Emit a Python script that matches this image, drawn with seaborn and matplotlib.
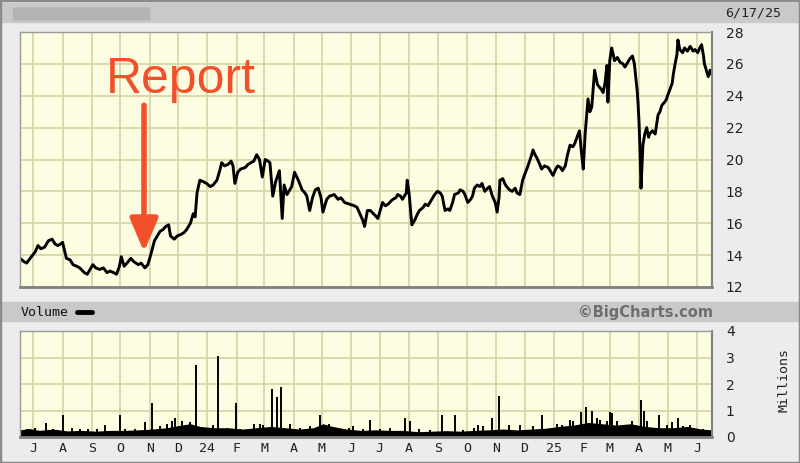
import matplotlib
matplotlib.use('Agg')
import matplotlib.pyplot as plt
from matplotlib.patches import Rectangle, FancyBboxPatch
import seaborn as sns
import pandas as pd
import numpy as np

# price: day offset from 2023-06-17 and closing price
price_days = [0, 4, 7, 12, 16, 19, 22, 26, 30, 34, 37, 40, 43, 45, 49, 53, 56, 60, 63, 68,
              71, 74, 77, 80, 84, 88, 92, 95, 99, 102, 105, 107, 110, 113, 117, 120, 125, 128, 132, 135,
              138, 142, 145, 148, 151, 154, 157, 159, 163, 166, 170, 173, 176, 180, 183, 185, 187, 190, 194, 197,
              201, 204, 208, 211, 213, 216, 220, 223, 225, 227, 230, 233, 238, 241, 244, 247, 250, 253, 256, 259,
              262, 264, 267, 270, 274, 277, 279, 282, 285, 287, 290, 294, 298, 301, 303, 306, 309, 312, 315, 318,
              320, 324, 327, 332, 336, 339, 343, 348, 353, 356, 359, 362, 364, 367, 370, 375, 378, 381, 383, 386,
              389, 392, 394, 397, 399, 402, 404, 408, 409, 411, 413, 414, 417, 420, 422, 426, 428, 431, 433, 436,
              438, 441, 444, 446, 449, 452, 454, 457, 459, 463, 465, 468, 470, 473, 476, 478, 480, 483, 486, 488,
              491, 494, 496, 499, 502, 504, 506, 507, 510, 512, 514, 517, 520, 523, 525, 528, 531, 534, 536, 540,
              542, 544, 546, 549, 551, 554, 558, 561, 563, 566, 568, 571, 573, 576, 578, 581, 584, 586, 589, 591,
              593, 595, 597, 600, 602, 604, 606, 607, 609, 610, 614, 616, 618, 620, 621, 623, 625, 627, 628, 631,
              634, 637, 639, 642, 644, 647, 649, 652, 653, 654, 655, 656, 658, 660, 662, 664, 665, 668, 671, 674,
              676, 678, 681, 683, 684, 686, 689, 690, 692, 694, 695, 697, 700, 702, 705, 708, 711, 713, 716, 718,
              720, 722, 723, 726, 727, 729, 731]
price = [13.8, 13.6, 13.5, 13.9, 14.2, 14.6, 14.4, 14.5, 14.9, 15.0, 14.7, 14.6, 14.7, 14.8, 13.8, 13.7, 13.4, 13.3, 13.2, 12.9,
         12.8, 13.1, 13.4, 13.2, 13.1, 13.2, 12.9, 13.0, 12.9, 12.8, 13.3, 13.9, 13.3, 13.5, 13.8, 13.6, 13.4, 13.5, 13.2, 13.4,
         14.0, 14.9, 15.2, 15.5, 15.6, 15.8, 15.9, 15.2, 15.0, 15.2, 15.3, 15.4, 15.6, 16.0, 16.6, 16.4, 17.9, 18.7, 18.6, 18.5,
         18.3, 18.4, 18.7, 19.3, 19.8, 19.6, 19.7, 19.9, 19.6, 18.5, 19.2, 19.4, 19.5, 19.7, 19.8, 19.9, 20.3, 20.0, 18.9, 20.0,
         19.9, 19.8, 17.7, 18.6, 19.3, 16.3, 18.4, 17.8, 18.1, 18.3, 19.2, 18.7, 18.1, 17.9, 17.7, 16.8, 17.6, 18.1, 18.2, 17.6,
         16.7, 17.5, 17.7, 17.8, 17.5, 17.6, 17.3, 17.2, 17.1, 17.0, 16.6, 16.2, 15.8, 16.8, 16.8, 16.5, 16.3, 16.9, 17.3, 17.1,
         17.2, 17.4, 17.5, 17.6, 17.8, 17.7, 17.5, 17.9, 18.7, 17.9, 16.5, 15.9, 16.2, 16.6, 16.8, 17.0, 17.2, 17.1, 17.3, 17.6,
         17.8, 18.0, 17.9, 17.7, 16.8, 16.9, 16.8, 17.3, 17.8, 17.9, 18.1, 18.0, 17.8, 17.3, 17.5, 17.7, 18.2, 18.4, 18.3, 18.5,
         18.0, 18.2, 18.3, 17.7, 17.3, 16.7, 17.6, 18.7, 18.8, 18.5, 18.3, 18.1, 18.0, 18.2, 17.9, 17.8, 18.7, 19.2, 19.5, 20.2,
         20.6, 20.3, 20.1, 19.7, 19.4, 19.6, 19.5, 19.2, 19.0, 19.4, 19.6, 19.5, 19.3, 19.6, 20.2, 20.9, 20.8, 21.0, 21.5, 21.8,
         20.5, 19.4, 21.6, 23.8, 23.0, 23.3, 24.8, 25.6, 25.0, 24.7, 24.4, 24.2, 24.8, 25.9, 23.6, 26.2, 27.0, 26.5, 26.2, 26.4,
         26.1, 26.0, 25.8, 26.1, 26.3, 26.5, 26.0, 24.3, 23.4, 22.2, 20.5, 18.2, 20.9, 21.6, 22.0, 21.4, 21.6, 21.8, 21.6, 22.8,
         23.0, 23.4, 23.6, 23.8, 24.0, 24.3, 24.8, 25.3, 26.0, 26.6, 27.5, 26.9, 26.7, 27.0, 26.8, 27.1, 26.8, 26.9, 26.7, 27.0,
         27.2, 26.5, 26.0, 25.4, 25.2, 25.6, 25.3]

# volume (millions): typical daily level and the single-day spikes
vol_base_days = [0, 10, 20, 35, 50, 65, 80, 95, 110, 125, 140, 155, 170, 180, 190, 205, 220, 235, 250, 265,
                 280, 295, 310, 320, 330, 345, 360, 375, 390, 405, 420, 435, 450, 465, 480, 495, 510, 525, 540, 555,
                 570, 585, 600, 615, 630, 645, 660, 675, 690, 705, 720, 731]
vol_base = [0.27, 0.32, 0.25, 0.3, 0.23, 0.25, 0.22, 0.25, 0.25, 0.27, 0.3, 0.35, 0.45, 0.5, 0.4, 0.35, 0.35, 0.3, 0.35, 0.4,
            0.35, 0.3, 0.35, 0.5, 0.4, 0.3, 0.25, 0.27, 0.25, 0.25, 0.2, 0.22, 0.24, 0.22, 0.25, 0.27, 0.3, 0.27, 0.3, 0.33,
            0.4, 0.45, 0.55, 0.5, 0.45, 0.5, 0.4, 0.35, 0.35, 0.4, 0.3, 0.27]
spike_days = [7, 16, 27, 35, 45, 55, 63, 72, 81, 90,
              106, 111, 121, 132, 139, 148, 155, 161, 164, 171,
              176, 180, 186, 193, 204, 209, 219, 228, 232, 247,
              253, 257, 266, 271, 276, 285, 296, 306, 317, 326,
              348, 352, 362, 370, 380, 391, 407, 412, 422, 433,
              446, 459, 468, 480, 484, 489, 499, 506, 517, 528,
              542, 551, 567, 573, 581, 584, 593, 598, 604, 609,
              613, 620, 623, 625, 631, 647, 656, 659, 662, 675,
              683, 689, 695, 700, 708, 711, 721]
spike_vol = [0.3, 0.35, 0.53, 0.3, 0.83, 0.35, 0.3, 0.3, 0.3, 0.45,
             0.83, 0.3, 0.3, 0.55, 1.28, 0.4, 0.5, 0.6, 0.72, 0.6,
             0.45, 0.55, 2.7, 0.35, 0.45, 3.05, 0.35, 1.28, 0.3, 0.5,
             0.5, 0.45, 1.8, 1.5, 1.9, 0.5, 0.35, 0.4, 0.83, 0.5,
             0.35, 0.4, 0.3, 0.64, 0.3, 0.35, 0.7, 0.6, 0.3, 0.25,
             0.83, 0.83, 0.25, 0.35, 0.45, 0.4, 0.7, 1.55, 0.45, 0.45,
             0.4, 0.83, 0.5, 0.45, 0.65, 0.6, 0.95, 1.13, 1.0, 0.7,
             0.64, 0.6, 0.95, 0.9, 0.6, 0.6, 1.4, 1.0, 0.6, 0.83,
             0.45, 0.55, 0.7, 0.4, 0.45, 0.35, 0.3]

month_labels = ['J', 'A', 'S', 'O', 'N', 'D', '24', 'F', 'M', 'A', 'M', 'J',
                'J', 'A', 'S', 'O', 'N', 'D', '25', 'F', 'M', 'A', 'M', 'J']
price_ticks = [12, 14, 16, 18, 20, 22, 24, 26, 28]
vol_ticks = [0, 1, 2, 3, 4]

start = pd.Timestamp('2023-06-17')
end = pd.Timestamp('2025-06-17')
df = pd.DataFrame({'date': start + pd.to_timedelta(price_days, unit='D'), 'price': price})
base_dates = start + pd.to_timedelta(vol_base_days, unit='D')
spike_dates = start + pd.to_timedelta(spike_days, unit='D')
month_starts = pd.date_range('2023-07-01', '2025-06-01', freq='MS')

sns.set_style('white', {'axes.facecolor': '#fdfde2'})
mono = 'DejaVu Sans Mono'
W, H = 800, 463

fig = plt.figure(figsize=(8, 4.63), dpi=100, facecolor='#ececec')


def fy(py):
    return 1 - py / H


# header bands
fig.patches.append(Rectangle((0, fy(22)), 1, 19 / H, transform=fig.transFigure, color='#c9c9c9', zorder=0))
fig.patches.append(FancyBboxPatch((15 / W, fy(19)), 133 / W, 10 / H, boxstyle='round,pad=0.002',
                                  transform=fig.transFigure, color='#b3b3b3', zorder=1))
fig.patches.append(Rectangle((0, fy(321)), 1, 19 / H, transform=fig.transFigure, color='#c9c9c9', zorder=0))
fig.patches.append(Rectangle((0, 0), 1, 1, transform=fig.transFigure, fill=False, ec='#8a8a8a', lw=2.5, zorder=5))
fig.text(781 / W, fy(13), '6/17/25', family=mono, fontsize=9.5, ha='right', va='center', color='#222')
fig.text(21 / W, fy(312), 'Volume', family=mono, fontsize=9.5, ha='left', va='center', color='#111')
fig.lines.append(plt.Line2D([77 / W, 92 / W], [fy(312), fy(312)], transform=fig.transFigure, color='black', lw=3.5))
fig.text(713 / W, fy(312), '©BigCharts.com', fontsize=10.5, fontweight='bold', ha='right', va='center', color='#6e6e6e')
fig.text(784 / W, fy(380), 'Millions', family=mono, fontsize=9.5, rotation=90, ha='center', va='center', color='#222')

ax = fig.add_axes([20 / W, fy(287), 692 / W, 255 / H])
ax2 = fig.add_axes([20 / W, fy(437), 692 / W, 106 / H])

# price panel
sns.lineplot(data=df, x='date', y='price', color='black', lw=2.1, sort=False, ax=ax)
ax.set_ylim(12, 28)
ax.set_yticks(price_ticks)
ax.set_xlim(start, end)
ax.set_xticks(month_starts)
ax.set_xticklabels([])
ax.annotate('', xy=(pd.Timestamp('2023-10-26'), 14.2), xytext=(pd.Timestamp('2023-10-26'), 23.4),
            arrowprops=dict(arrowstyle='-|>,head_width=0.85,head_length=2.0', lw=4, color='#f2502a',
                            shrinkA=0, shrinkB=0))
ax.text(pd.Timestamp('2023-12-04'), 24.2, 'Report', fontsize=36, family='Liberation Sans',
        color='#f2502a', ha='center', va='baseline')

# volume panel
ax2.fill_between(base_dates, 0, vol_base, color='black', lw=0)
ax2.vlines(spike_dates, 0, spike_vol, color='black', lw=1.4)
ax2.set_ylim(0, 4)
ax2.set_yticks(vol_ticks)
ax2.set_xlim(start, end)
ax2.set_xticks(month_starts)
ax2.set_xticklabels(month_labels, family=mono, fontsize=9.5, color='#222')

for a in (ax, ax2):
    a.set_xlabel('')
    a.set_ylabel('')
    a.yaxis.tick_right()
    a.tick_params(axis='both', length=0)
    a.tick_params(axis='y', pad=10, labelsize=10)
    for lab in a.get_yticklabels():
        lab.set_color('#222')
    a.grid(True, color='#d6d2a2', lw=1.2)
    a.set_axisbelow(True)
    for s in a.spines.values():
        s.set_color('#9a9a9a')
        s.set_linewidth(1)
    a.spines['bottom'].set_color('#808080')
    a.spines['bottom'].set_linewidth(2)
    a.spines['right'].set_color('#808080')
    a.spines['right'].set_linewidth(1.5)

fig.savefig('out.png', dpi=100, facecolor=fig.get_facecolor())
